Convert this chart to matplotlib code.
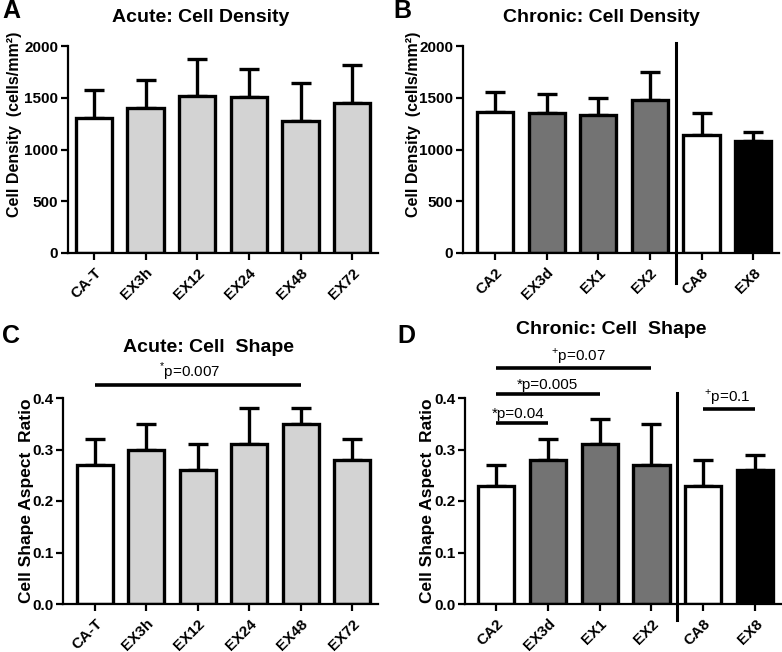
import numpy as np
import matplotlib
matplotlib.use("Agg")
import matplotlib.pyplot as plt

plt.rcParams["font.family"] = ["Liberation Sans", "DejaVu Sans"]
plt.rcParams["mathtext.fontset"] = "custom"
plt.rcParams["mathtext.rm"] = "Liberation Sans"

W, H = 782, 652

# data
acute_groups = ["CA-T", "EX3h", "EX12", "EX24", "EX48", "EX72"]
chronic_groups = ["CA2", "EX3d", "EX1", "EX2", "CA8", "EX8"]

acute_density = [1300, 1400, 1520, 1510, 1280, 1445]
acute_density_err = [275, 275, 350, 270, 360, 375]
chronic_density = [1365, 1355, 1330, 1480, 1140, 1085]
chronic_density_err = [195, 180, 165, 265, 210, 80]

acute_shape = [0.27, 0.30, 0.26, 0.31, 0.35, 0.28]
acute_shape_err = [0.05, 0.05, 0.05, 0.07, 0.03, 0.04]
chronic_shape = [0.23, 0.28, 0.31, 0.27, 0.23, 0.26]
chronic_shape_err = [0.04, 0.04, 0.05, 0.08, 0.05, 0.03]

acute_colors = ["white", "#d3d3d3", "#d3d3d3", "#d3d3d3", "#d3d3d3", "#d3d3d3"]
chronic_colors = ["white", "#737373", "#737373", "#737373", "white", "black"]

# significance bars: (i, j, y, label, text x offset)
acute_sig = [(0, 4, 0.425, r"$^{*}$p=0.007", -0.15)]
chronic_sig = [(0, 1, 0.351, "*p=0.04", -0.07),
               (0, 2, 0.408, "*p=0.005", 0.0),
               (0, 3, 0.458, r"$^{+}$p=0.07", 0.1),
               (4, 5, 0.379, r"$^{+}$p=0.1", -0.03)]


def fx(x):
    return x / W


def fy(y):
    return 1 - y / H


fig = plt.figure(figsize=(W / 100, H / 100), dpi=100)


def make_ax(left, right, top, bottom):
    return fig.add_axes([fx(left), fy(bottom), fx(right - left), (bottom - top) / H])


def draw(ax, names, vals, errs, colors, ymax, yticks, fmt, xlo):
    x = np.arange(len(names))
    ax.bar(x, vals, width=0.7, color=colors, edgecolor="black", linewidth=2.4, zorder=2)
    ax.errorbar(x, vals, yerr=[np.zeros(len(errs)), errs], fmt="none", ecolor="black",
                elinewidth=2.4, capsize=7.5, capthick=2.4, zorder=1)
    ax.set_xlim(xlo, len(names) - 0.5)
    ax.set_ylim(0, ymax)
    ax.set_yticks(yticks)
    ax.set_yticklabels([fmt.format(v) for v in yticks], fontweight="bold", fontsize=11)
    ax.set_xticks(x)
    ax.set_xticklabels(names, rotation=45, ha="right", rotation_mode="anchor",
                       fontweight="bold", fontsize=11)
    for s in ["top", "right"]:
        ax.spines[s].set_visible(False)
    for s in ["left", "bottom"]:
        ax.spines[s].set_linewidth(1.6)
    ax.tick_params(width=1.6, length=5, pad=2)
    ax.tick_params(axis="x", pad=4)


def ylab(ax, text, left, right_px, ypos, size):
    # label anchor is its right edge after rotation
    ax.set_ylabel(text, fontweight="bold", fontsize=size)
    width = ax.get_position().width * W
    ax.yaxis.set_label_coords((right_px - left) / width, ypos)


def sig(ax, items):
    for i, j, y, label, dx in items:
        ax.plot([i, j], [y, y], color="black", linewidth=2.6, clip_on=False,
                solid_capstyle="butt")
        ax.text((i + j) / 2 + dx, y + 0.004, label, ha="center", va="bottom", fontsize=11)


axA = make_ax(68, 378, 46, 253)
draw(axA, acute_groups, acute_density, acute_density_err, acute_colors,
     2000, [0, 500, 1000, 1500, 2000], "{:d}", -0.5)
ylab(axA, "Cell Density  (cells/mm²)", 68, 22, 0.62, 11.5)

axB = make_ax(463, 779, 46, 253)
draw(axB, chronic_groups, chronic_density, chronic_density_err, chronic_colors,
     2000, [0, 500, 1000, 1500, 2000], "{:d}", -0.62)
ylab(axB, "Cell Density  (cells/mm²)", 463, 421, 0.62, 11.5)
axB.plot([3.5, 3.5], [2030, -290], color="black", linewidth=2.2, clip_on=False)

axC = make_ax(63, 378, 398, 604)
draw(axC, acute_groups, acute_shape, acute_shape_err, acute_colors,
     0.4, [0.0, 0.1, 0.2, 0.3, 0.4], "{:.1f}", -0.62)
ylab(axC, "Cell Shape Aspect  Ratio", 63, 34, 0.5, 12.5)
sig(axC, acute_sig)

axD = make_ax(465, 781, 398, 604)
draw(axD, chronic_groups, chronic_shape, chronic_shape_err, chronic_colors,
     0.4, [0.0, 0.1, 0.2, 0.3, 0.4], "{:.1f}", -0.6)
ylab(axD, "Cell Shape Aspect  Ratio", 465, 435, 0.5, 12.5)
axD.plot([3.5, 3.5], [0.41, -0.031], color="black", linewidth=2.2, clip_on=False)
sig(axD, chronic_sig)

# titles
fig.text(fx(201), fy(17), "Acute: Cell Density", ha="center", va="center",
         fontweight="bold", fontsize=14)
fig.text(fx(601), fy(17), "Chronic: Cell Density", ha="center", va="center",
         fontweight="bold", fontsize=14)
fig.text(fx(208), fy(348), "Acute: Cell  Shape", ha="center", va="center",
         fontweight="bold", fontsize=14)
fig.text(fx(611), fy(330), "Chronic: Cell  Shape", ha="center", va="center",
         fontweight="bold", fontsize=14)

# panel letters
for letter, (px, py) in zip("ABCD", [(2, 11), (393, 11), (2, 336), (397, 336)]):
    fig.text(fx(px), fy(py), letter, ha="left", va="center", fontweight="bold", fontsize=18)

fig.savefig("out.png", dpi=100)
